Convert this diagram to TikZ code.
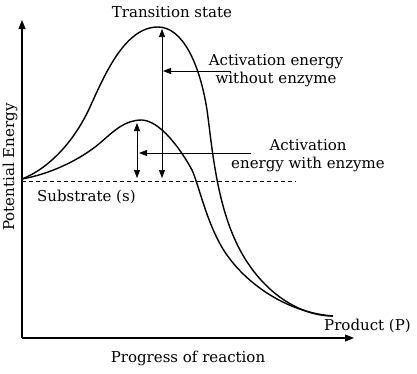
\documentclass[tikz,border=0pt]{standalone}
\usepackage{fontspec}
\setmainfont{DejaVu Serif}
\usetikzlibrary{arrows.meta}
\begin{document}
\begin{tikzpicture}[x=1pt,y=-1pt,
  curve/.style={line width=1.4pt,line join=round},
  axis/.style={line width=1.1pt,-{Triangle[length=9pt,width=7pt]}},
  dbl/.style={line width=0.7pt,{Triangle[length=8pt,width=6pt]}-{Triangle[length=8pt,width=6pt]}},
  ptr/.style={line width=0.9pt,-{Triangle[length=8pt,width=6pt]}},
  lbl/.style={font=\fontsize{15}{18}\selectfont,inner sep=0pt,align=center}]
\useasboundingbox (0,0) rectangle (417,373);
\clip (0,0) rectangle (417,373);
% axes
\coordinate (O) at (22,338);
\coordinate (Ytop) at (22,20);
\coordinate (Xend) at (354,338);
\draw[axis] (O) -- (Ytop);
\draw[axis] (O) -- (Xend);
% substrate level
\coordinate (S) at (22,179);
\coordinate (Dend) at (296,181);
\draw[line width=0.7pt,dash pattern=on 4pt off 3pt] (22,181) -- (Dend);
% curve without enzyme
\draw[curve] (S) .. controls (50,168) and (75,140) .. (90,107)
  .. controls (105,74) and (125,27) .. (158,27)
  .. controls (183,27) and (200,65) .. (207,110)
  .. controls (212,145) and (216,205) .. (240,250)
  .. controls (263,293) and (300,316) .. (333,316);
% curve with enzyme
\draw[curve] (S) .. controls (50,174) and (80,160) .. (100,143)
  .. controls (115,130) and (125,120) .. (142,120)
  .. controls (160,121) and (180,148) .. (192,170)
  .. controls (198,183) and (205,215) .. (218,240)
  .. controls (235,275) and (280,312) .. (333,316);
% double arrows
\coordinate (A1) at (162,29);
\coordinate (A2) at (162,178);
\coordinate (B1) at (137,123);
\coordinate (B2) at (137,178);
\draw[dbl] (A1) -- (A2);
\draw[dbl] (B1) -- (B2);
% labels
\node[lbl] (ts) at (172,12) {Transition state};
\node[lbl] (ae1) at (276,71) {Activation energy\\without enzyme};
\node[lbl] (ae2) at (308,156) {Activation\\energy with enzyme};
\node[lbl,anchor=west] (sub) at (37,197) {Substrate (s)};
\node[lbl,anchor=west] (prod) at (324,326) {Product (P)};
\node[lbl] (prog) at (188,358) {Progress of reaction};
\node[lbl,rotate=90] (pe) at (10,167) {Potential Energy};
% pointers
\coordinate (P1s) at (231,71);
\coordinate (P1e) at (163,71);
\coordinate (P2s) at (251,153);
\coordinate (P2e) at (139,153);
\draw[ptr] (P1s) -- (P1e);
\draw[ptr] (P2s) -- (P2e);
\end{tikzpicture}
\end{document}
